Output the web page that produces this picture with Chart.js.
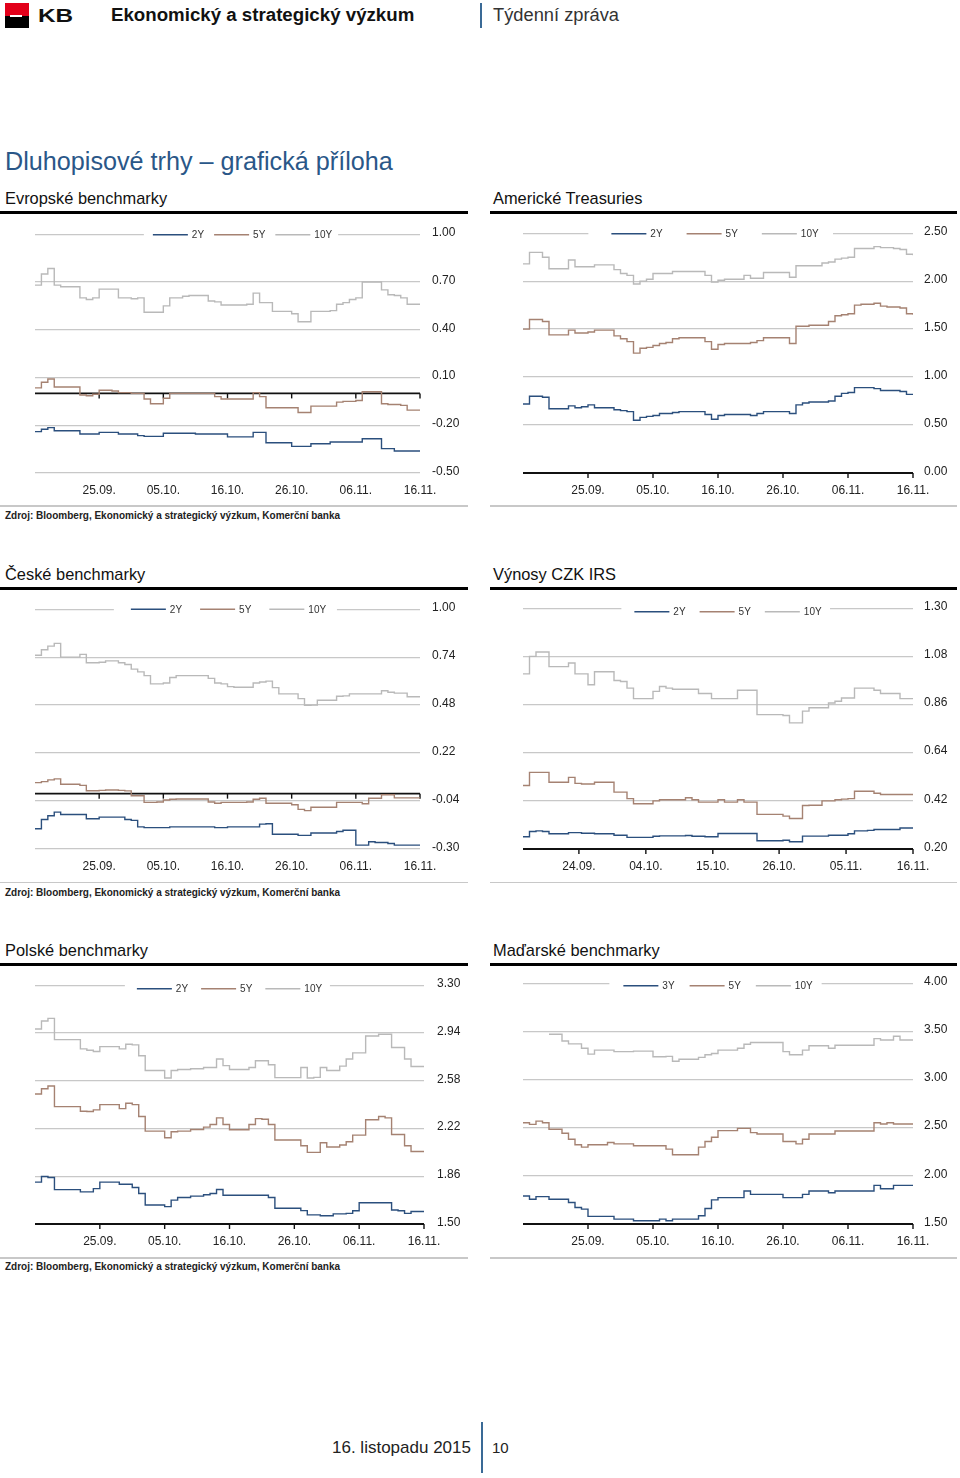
<!DOCTYPE html>
<html lang="cs">
<head>
<meta charset="UTF-8">
<title>Dluhopisové trhy – grafická příloha</title>
<script src="https://cdn.jsdelivr.net/npm/chart.js@4.4.0/dist/chart.umd.min.js"></script>
<style>
  body { margin: 0; width: 960px; height: 1478px; position: relative; background: #fff; overflow: hidden;
         font-family: "Liberation Sans", Arial, sans-serif; color: #111; }
  .t { position: absolute; white-space: nowrap; line-height: 1; }
  .r { position: absolute; }
  canvas { position: absolute; }
  .sekce { font-size: 16.4px; color: #111; }
  .zdroj { font-size: 10px; font-weight: bold; color: #222; }
  .cerna { height: 2.5px; background: #000; }
  .seda { height: 1.5px; background: #c8c8c8; }
</style>
</head>
<body>
<!-- hlavicka -->
<div class="r" style="left:5px;top:3px;width:24px;height:13px;background:#e2001a"></div>
<div class="r" style="left:5px;top:16px;width:24px;height:12px;background:#000"></div>
<div class="r" style="left:10px;top:15px;width:12px;height:1.5px;background:#fff"></div>
<div class="t" style="left:38px;top:7px;font-size:18px;font-weight:bold;transform:scaleX(1.35);transform-origin:left">KB</div>
<div class="t" style="left:111px;top:6px;font-size:18.7px;font-weight:bold">Ekonomický a strategický výzkum</div>
<div class="r" style="left:480px;top:3px;width:2px;height:25px;background:#3a6a96"></div>
<div class="t" style="left:493px;top:6px;font-size:18.3px;color:#333">Týdenní zpráva</div>

<div class="t" style="left:5px;top:149px;font-size:25.2px;color:#2a5788">Dluhopisové trhy – grafická příloha</div>

<!-- radek 1 -->
<div class="t sekce" style="left:5px;top:190px">Evropské benchmarky</div>
<div class="t sekce" style="left:493px;top:190px">Americké Treasuries</div>
<div class="r cerna" style="left:0;top:211px;width:468px"></div>
<div class="r cerna" style="left:490px;top:211px;width:467px"></div>
<div class="r seda" style="left:0;top:505px;width:468px"></div>
<div class="r seda" style="left:490px;top:505px;width:467px"></div>
<div class="t zdroj" style="left:5px;top:511px">Zdroj: Bloomberg, Ekonomický a strategický výzkum, Komerční banka</div>

<!-- radek 2 -->
<div class="t sekce" style="left:5px;top:566px">České benchmarky</div>
<div class="t sekce" style="left:493px;top:566px">Výnosy CZK IRS</div>
<div class="r cerna" style="left:0;top:587px;width:468px"></div>
<div class="r cerna" style="left:490px;top:587px;width:467px"></div>
<div class="r seda" style="left:0;top:881.5px;width:468px"></div>
<div class="r seda" style="left:490px;top:881.5px;width:467px"></div>
<div class="t zdroj" style="left:5px;top:887.5px">Zdroj: Bloomberg, Ekonomický a strategický výzkum, Komerční banka</div>

<!-- radek 3 -->
<div class="t sekce" style="left:5px;top:942px">Polské benchmarky</div>
<div class="t sekce" style="left:493px;top:942px">Maďarské benchmarky</div>
<div class="r cerna" style="left:0;top:963px;width:468px"></div>
<div class="r cerna" style="left:490px;top:963px;width:467px"></div>
<div class="r seda" style="left:0;top:1257px;width:468px"></div>
<div class="r seda" style="left:490px;top:1257px;width:467px"></div>
<div class="t zdroj" style="left:5px;top:1262px">Zdroj: Bloomberg, Ekonomický a strategický výzkum, Komerční banka</div>

<canvas id="g1" width="450" height="290" style="left:20px;top:215px"></canvas>
<canvas id="g2" width="452" height="290" style="left:508px;top:215px"></canvas>
<canvas id="g3" width="450" height="290" style="left:20px;top:590px"></canvas>
<canvas id="g4" width="452" height="290" style="left:508px;top:590px"></canvas>
<canvas id="g5" width="450" height="290" style="left:20px;top:965px"></canvas>
<canvas id="g6" width="452" height="290" style="left:508px;top:965px"></canvas>

<!-- paticka -->
<div class="t" style="left:332px;top:1439px;font-size:17px;color:#222">16. listopadu 2015</div>
<div class="r" style="left:481px;top:1422px;width:2px;height:51px;background:#3a6a96"></div>
<div class="t" style="left:492px;top:1440px;font-size:15px;color:#222">10</div>

<script>
// popisky osy x
const datumy = ['25.09.', '05.10.', '16.10.', '26.10.', '06.11.', '16.11.'];
const datumyIRS = ['24.09.', '04.10.', '15.10.', '26.10.', '05.11.', '16.11.'];
// pozice popisku (index dne)
const poziceX = [10, 20, 30, 40, 50, 60];
const poziceIRS = [8.6, 18.9, 29.2, 39.4, 49.7, 60];

// hodnoty osy y
const osaEU = [-0.50, -0.20, 0.10, 0.40, 0.70, 1.00];
const osaUS = [0.00, 0.50, 1.00, 1.50, 2.00, 2.50];
const osaCZ = [-0.30, -0.04, 0.22, 0.48, 0.74, 1.00];
const osaIRS = [0.20, 0.42, 0.64, 0.86, 1.08, 1.30];
const osaPL = [1.50, 1.86, 2.22, 2.58, 2.94, 3.30];
const osaHU = [1.50, 2.00, 2.50, 3.00, 3.50, 4.00];

// Evropske benchmarky
const eu2y = [-0.24,-0.225,-0.215,-0.235,-0.235,-0.235,-0.235,-0.255,-0.255,-0.255,
  -0.245,-0.245,-0.245,-0.255,-0.255,-0.255,-0.265,-0.27,-0.27,-0.27,
  -0.25,-0.25,-0.25,-0.25,-0.25,-0.255,-0.255,-0.255,-0.255,-0.255,
  -0.273,-0.273,-0.273,-0.273,-0.245,-0.245,-0.31,-0.31,-0.31,-0.31,
  -0.333,-0.333,-0.333,-0.316,-0.316,-0.316,-0.305,-0.305,-0.305,-0.305,
  -0.305,-0.285,-0.285,-0.285,-0.347,-0.347,-0.362,-0.362,-0.362,-0.362,-0.362];
const eu5y = [0.035,0.07,0.09,0.04,0.04,0.04,0.04,-0.01,-0.015,-0.005,
  0.02,0.02,0.015,0.005,0.005,0.0,0.0,-0.035,-0.065,-0.065,
  -0.03,0.0,0.0,0.0,0.0,0.0,0.0,0.0,-0.02,-0.035,
  -0.035,-0.035,-0.035,-0.035,0.005,-0.02,-0.09,-0.09,-0.09,-0.09,
  -0.09,-0.12,-0.12,-0.08,-0.08,-0.08,-0.08,-0.055,-0.05,-0.05,
  -0.045,0.01,0.01,0.01,-0.065,-0.07,-0.07,-0.075,-0.105,-0.105,-0.105];
const eu10y = [0.68,0.75,0.785,0.68,0.67,0.67,0.67,0.60,0.59,0.60,
  0.655,0.655,0.655,0.60,0.60,0.595,0.60,0.51,0.51,0.51,
  0.55,0.60,0.60,0.61,0.615,0.615,0.615,0.58,0.575,0.555,
  0.555,0.555,0.555,0.56,0.63,0.57,0.57,0.515,0.515,0.515,
  0.50,0.45,0.45,0.515,0.515,0.515,0.52,0.56,0.57,0.59,
  0.60,0.70,0.70,0.70,0.65,0.62,0.615,0.60,0.56,0.56,0.56];

// Americke Treasuries
const us2y = [0.72,0.80,0.80,0.79,0.67,0.67,0.67,0.70,0.68,0.69,
  0.71,0.68,0.68,0.68,0.66,0.65,0.64,0.55,0.58,0.59,
  0.60,0.62,0.62,0.63,0.64,0.64,0.64,0.64,0.61,0.56,
  0.60,0.61,0.61,0.61,0.61,0.60,0.62,0.64,0.64,0.64,
  0.64,0.62,0.71,0.73,0.74,0.74,0.74,0.75,0.80,0.83,
  0.84,0.89,0.89,0.89,0.88,0.86,0.86,0.86,0.85,0.82,0.82];
const us5y = [1.50,1.60,1.60,1.58,1.44,1.44,1.44,1.49,1.46,1.46,
  1.47,1.49,1.49,1.49,1.43,1.40,1.37,1.25,1.30,1.31,
  1.33,1.35,1.36,1.40,1.41,1.41,1.41,1.41,1.37,1.29,
  1.34,1.35,1.35,1.35,1.35,1.36,1.38,1.41,1.41,1.41,
  1.41,1.35,1.53,1.53,1.54,1.54,1.54,1.58,1.64,1.65,
  1.66,1.75,1.76,1.76,1.77,1.74,1.73,1.73,1.72,1.66,1.65];
const us10y = [2.18,2.30,2.30,2.25,2.13,2.13,2.13,2.22,2.15,2.15,
  2.15,2.17,2.17,2.17,2.12,2.08,2.06,1.97,2.00,2.02,
  2.08,2.08,2.08,2.10,2.10,2.10,2.10,2.10,2.06,1.99,
  2.01,2.02,2.02,2.02,2.06,2.03,2.03,2.09,2.09,2.09,
  2.09,2.04,2.16,2.16,2.16,2.16,2.19,2.20,2.23,2.24,
  2.25,2.34,2.34,2.34,2.36,2.35,2.35,2.34,2.33,2.28,2.27];

// Ceske benchmarky
const cz2y = [-0.19,-0.14,-0.12,-0.10,-0.113,-0.113,-0.113,-0.113,-0.136,-0.136,
  -0.127,-0.127,-0.127,-0.127,-0.14,-0.145,-0.18,-0.184,-0.184,-0.184,
  -0.184,-0.18,-0.18,-0.18,-0.18,-0.18,-0.18,-0.18,-0.184,-0.184,
  -0.18,-0.18,-0.18,-0.18,-0.18,-0.165,-0.163,-0.22,-0.22,-0.22,
  -0.22,-0.226,-0.226,-0.213,-0.213,-0.213,-0.213,-0.205,-0.198,-0.198,
  -0.279,-0.279,-0.261,-0.265,-0.265,-0.27,-0.279,-0.279,-0.279,-0.279,-0.279];
const cz5y = [0.06,0.065,0.075,0.08,0.051,0.051,0.051,0.045,0.016,0.016,
  0.018,0.02,0.02,0.018,0.015,-0.011,-0.011,-0.047,-0.047,-0.045,
  -0.034,-0.03,-0.029,-0.029,-0.029,-0.029,-0.029,-0.045,-0.052,-0.047,
  -0.047,-0.047,-0.047,-0.045,-0.03,-0.025,-0.052,-0.052,-0.052,-0.052,
  -0.06,-0.085,-0.092,-0.074,-0.074,-0.074,-0.074,-0.047,-0.047,-0.047,
  -0.047,-0.055,-0.025,-0.025,-0.006,-0.006,-0.023,-0.023,-0.023,-0.023,-0.023];
const cz10y = [0.75,0.78,0.80,0.815,0.74,0.74,0.74,0.755,0.71,0.71,
  0.712,0.72,0.72,0.71,0.70,0.675,0.66,0.64,0.595,0.595,
  0.60,0.63,0.64,0.64,0.64,0.64,0.64,0.625,0.60,0.595,
  0.58,0.577,0.577,0.577,0.60,0.605,0.61,0.575,0.541,0.541,
  0.541,0.515,0.479,0.48,0.506,0.506,0.506,0.528,0.53,0.541,
  0.541,0.541,0.541,0.541,0.558,0.55,0.545,0.545,0.525,0.525,0.525];

// Vynosy CZK IRS
const irs2y = [0.256,0.28,0.283,0.28,0.27,0.27,0.27,0.275,0.275,0.272,
  0.272,0.27,0.27,0.27,0.263,0.263,0.253,0.253,0.253,0.253,
  0.258,0.26,0.26,0.26,0.26,0.262,0.258,0.258,0.256,0.256,
  0.271,0.271,0.271,0.271,0.271,0.271,0.238,0.238,0.238,0.238,
  0.24,0.233,0.233,0.259,0.259,0.259,0.259,0.263,0.263,0.263,
  0.27,0.283,0.283,0.285,0.289,0.289,0.289,0.289,0.296,0.296,0.296];
const irs5y = [0.49,0.55,0.55,0.55,0.505,0.505,0.505,0.527,0.50,0.497,
  0.497,0.505,0.505,0.505,0.46,0.46,0.43,0.407,0.407,0.407,
  0.42,0.425,0.425,0.425,0.425,0.434,0.425,0.414,0.414,0.414,
  0.425,0.414,0.414,0.425,0.414,0.414,0.358,0.358,0.358,0.358,
  0.35,0.339,0.339,0.399,0.40,0.40,0.42,0.42,0.425,0.428,
  0.43,0.464,0.464,0.464,0.455,0.449,0.449,0.449,0.449,0.449,0.449];
const irs10y = [1.00,1.08,1.10,1.10,1.033,1.033,1.033,1.05,1.00,1.00,
  0.95,1.01,1.01,1.01,0.97,0.965,0.935,0.887,0.887,0.887,
  0.92,0.942,0.935,0.93,0.93,0.93,0.93,0.91,0.91,0.887,
  0.887,0.887,0.887,0.925,0.925,0.925,0.814,0.814,0.814,0.814,
  0.81,0.776,0.776,0.83,0.845,0.845,0.845,0.867,0.875,0.89,
  0.89,0.935,0.935,0.935,0.925,0.91,0.91,0.91,0.887,0.887,0.887];

// Polske benchmarky
const pl2y = [1.816,1.858,1.85,1.759,1.759,1.759,1.759,1.742,1.742,1.767,
  1.816,1.816,1.816,1.80,1.80,1.775,1.73,1.643,1.643,1.643,
  1.631,1.68,1.70,1.70,1.71,1.71,1.72,1.73,1.76,1.717,
  1.717,1.717,1.717,1.717,1.717,1.717,1.70,1.619,1.619,1.619,
  1.619,1.601,1.569,1.569,1.562,1.562,1.576,1.576,1.58,1.60,
  1.66,1.66,1.66,1.66,1.66,1.606,1.60,1.58,1.594,1.594,1.594];
const pl5y = [2.48,2.52,2.54,2.385,2.385,2.385,2.385,2.35,2.348,2.36,
  2.40,2.40,2.40,2.37,2.41,2.40,2.31,2.20,2.20,2.20,
  2.15,2.195,2.20,2.20,2.212,2.212,2.23,2.25,2.30,2.25,
  2.21,2.21,2.21,2.25,2.294,2.29,2.25,2.133,2.133,2.133,
  2.133,2.09,2.04,2.04,2.113,2.08,2.08,2.095,2.12,2.17,
  2.17,2.286,2.286,2.31,2.30,2.175,2.175,2.09,2.046,2.046,2.046];
const pl10y = [2.97,3.03,3.05,2.89,2.89,2.89,2.89,2.82,2.81,2.80,
  2.837,2.837,2.837,2.82,2.855,2.85,2.768,2.657,2.657,2.657,
  2.60,2.657,2.665,2.665,2.67,2.67,2.68,2.68,2.744,2.694,
  2.665,2.665,2.665,2.68,2.73,2.73,2.70,2.603,2.603,2.603,
  2.603,2.68,2.60,2.605,2.68,2.657,2.657,2.69,2.744,2.79,
  2.79,2.917,2.917,2.93,2.93,2.83,2.83,2.744,2.687,2.687,2.687];

// Madarske benchmarky
const hu3y = [1.791,1.757,1.784,1.784,1.757,1.757,1.757,1.723,1.671,1.654,
  1.579,1.579,1.579,1.579,1.551,1.551,1.551,1.534,1.534,1.534,
  1.534,1.551,1.534,1.551,1.551,1.551,1.551,1.586,1.661,1.75,
  1.774,1.774,1.774,1.774,1.842,1.808,1.808,1.808,1.808,1.808,
  1.774,1.774,1.774,1.808,1.842,1.842,1.842,1.825,1.842,1.842,
  1.842,1.842,1.842,1.842,1.901,1.866,1.866,1.901,1.901,1.901,1.901];
const hu5y = [2.551,2.534,2.568,2.551,2.483,2.483,2.442,2.38,2.322,2.298,
  2.322,2.322,2.322,2.346,2.332,2.332,2.332,2.312,2.312,2.312,
  2.312,2.312,2.277,2.219,2.219,2.219,2.219,2.298,2.356,2.401,
  2.469,2.469,2.469,2.493,2.493,2.449,2.435,2.435,2.435,2.435,
  2.356,2.356,2.332,2.38,2.435,2.435,2.435,2.435,2.466,2.466,
  2.466,2.466,2.466,2.466,2.551,2.538,2.551,2.538,2.538,2.538,2.538];
const hu10y = [null,null,null,null,3.47,3.47,3.40,3.37,3.37,3.325,
  3.264,3.305,3.305,3.305,3.29,3.29,3.29,3.295,3.295,3.295,
  3.236,3.236,3.24,3.19,3.21,3.21,3.21,3.23,3.257,3.27,
  3.305,3.305,3.305,3.325,3.366,3.384,3.384,3.384,3.384,3.384,
  3.29,3.257,3.257,3.305,3.35,3.35,3.35,3.325,3.356,3.356,
  3.356,3.356,3.356,3.356,3.425,3.41,3.41,3.45,3.41,3.41,3.41];

const MODRA = '#2b4f7d', HNEDA = '#a58272', SEDA = '#b9b9b9', MRIZKA = '#c8c8c8';
Chart.defaults.font.family = '"Liberation Sans", Arial, sans-serif';

// cerna osa (na nule nebo na spodku) + legenda pres horni mrizku
const osaPlugin = {
  id: 'osa',
  beforeDatasetsDraw(chart) {
    const { ctx, chartArea: a, scales: { x, y } } = chart;
    const py = y.getPixelForValue(y.min > 0 ? y.min : 0);
    ctx.save();
    ctx.strokeStyle = '#111';
    ctx.lineWidth = 1.8;
    ctx.beginPath(); ctx.moveTo(a.left, py); ctx.lineTo(a.right, py); ctx.stroke();
    ctx.lineWidth = 1.4;
    x.ticks.forEach(t => {
      const px = x.getPixelForValue(t.value);
      ctx.beginPath(); ctx.moveTo(px, py); ctx.lineTo(px, py + 5); ctx.stroke();
    });
    ctx.restore();
  },
  afterDraw(chart, args, opt) {
    const { ctx, chartArea: a } = chart;
    const sady = chart.data.datasets;
    ctx.save();
    ctx.font = '10px "Liberation Sans", Arial, sans-serif';
    const car = 35, m1 = 4, m2 = opt.mezera;
    const sirky = sady.map(d => ctx.measureText(d.label).width);
    const celkem = sirky.reduce((s, w) => s + car + m1 + w, 0) + m2 * (sady.length - 1);
    let x0 = (a.left + a.right) / 2 - celkem / 2 + opt.dx;
    const y0 = a.top + opt.dy;
    ctx.fillStyle = '#fff';
    ctx.fillRect(x0 - (m2 - 1), a.top - 3, celkem + (m2 - 1) + m2 * 0.6, 6);
    sady.forEach((d, i) => {
      ctx.strokeStyle = d.borderColor;
      ctx.lineWidth = 1.5;
      ctx.beginPath(); ctx.moveTo(x0, y0); ctx.lineTo(x0 + car, y0); ctx.stroke();
      ctx.fillStyle = '#333';
      ctx.textBaseline = 'middle';
      ctx.fillText(d.label, x0 + car + m1, y0 + 1);
      x0 += car + m1 + sirky[i] + m2;
    });
    ctx.restore();
  }
};

function vykresli(id, o) {
  const el = document.getElementById(id);
  const L = el.offsetLeft, T = el.offsetTop, W = el.width, H = el.height;
  const [pl, pr, pt, pb] = o.plot;
  return new Chart(el, {
    type: 'line',
    data: {
      datasets: o.rady.map(r => ({
        label: r[0],
        data: r[1].map((v, i) => ({ x: i, y: v })),
        borderColor: r[2],
        borderWidth: 1.4,
        pointRadius: 0,
        stepped: true,
        fill: false
      }))
    },
    options: {
      responsive: false,
      animation: false,
      events: [],
      layout: { padding: { left: pl - L, top: pt - T, right: 0, bottom: 0 } },
      plugins: {
        legend: { display: false },
        tooltip: { enabled: false },
        osa: o.legenda
      },
      scales: {
        x: {
          type: 'linear', min: 0, max: o.rady[0][1].length - 1,
          afterBuildTicks: s => { s.ticks = o.xPoz.map(v => ({ value: v })); },
          afterFit: s => { s.height = T + H - pb; },
          grid: { display: false },
          border: { display: false },
          ticks: { font: { size: 12 }, color: '#222', padding: 2, maxRotation: 0, autoSkip: false,
                   callback: (v, i) => o.xLab[i] }
        },
        y: {
          position: 'right',
          min: o.osa[0], max: o.osa[o.osa.length - 1],
          afterBuildTicks: s => { s.ticks = o.osa.map(v => ({ value: v })); },
          afterFit: s => { s.width = L + W - pr; },
          grid: { color: MRIZKA, lineWidth: 1.3, drawTicks: false },
          border: { display: false },
          ticks: { font: { size: 12 }, color: '#222', padding: o.yPad, labelOffset: -1.5,
                   callback: v => v.toFixed(2) }
        }
      }
    },
    plugins: [osaPlugin]
  });
}

vykresli('g1', { plot: [35, 420, 231, 473], osa: osaEU, xPoz: poziceX, xLab: datumy, yPad: 12,
  legenda: { dx: 15, dy: 0.5, mezera: 10 },
  rady: [['2Y', eu2y, MODRA], ['5Y', eu5y, HNEDA], ['10Y', eu10y, SEDA]] });
vykresli('g2', { plot: [523, 913, 231, 473], osa: osaUS, xPoz: poziceX, xLab: datumy, yPad: 11,
  legenda: { dx: -3, dy: 0.5, mezera: 24 },
  rady: [['2Y', us2y, MODRA], ['5Y', us5y, HNEDA], ['10Y', us10y, SEDA]] });
vykresli('g3', { plot: [35, 420, 606, 849], osa: osaCZ, xPoz: poziceX, xLab: datumy, yPad: 12,
  legenda: { dx: 1, dy: 0, mezera: 18 },
  rady: [['2Y', cz2y, MODRA], ['5Y', cz5y, HNEDA], ['10Y', cz10y, SEDA]] });
vykresli('g4', { plot: [523, 913, 606, 849], osa: osaIRS, xPoz: poziceIRS, xLab: datumyIRS, yPad: 11,
  legenda: { dx: 10, dy: 3.5, mezera: 14 },
  rady: [['2Y', irs2y, MODRA], ['5Y', irs5y, HNEDA], ['10Y', irs10y, SEDA]] });
vykresli('g5', { plot: [35, 424, 981, 1224], osa: osaPL, xPoz: poziceX, xLab: datumy, yPad: 13,
  legenda: { dx: 0, dy: 3.5, mezera: 13 },
  rady: [['2Y', pl2y, MODRA], ['5Y', pl5y, HNEDA], ['10Y', pl10y, SEDA]] });
vykresli('g6', { plot: [523, 913, 981, 1224], osa: osaHU, xPoz: poziceX, xLab: datumy, yPad: 11,
  legenda: { dx: 0, dy: 2.5, mezera: 15 },
  rady: [['3Y', hu3y, MODRA], ['5Y', hu5y, HNEDA], ['10Y', hu10y, SEDA]] });
</script>
</body>
</html>
